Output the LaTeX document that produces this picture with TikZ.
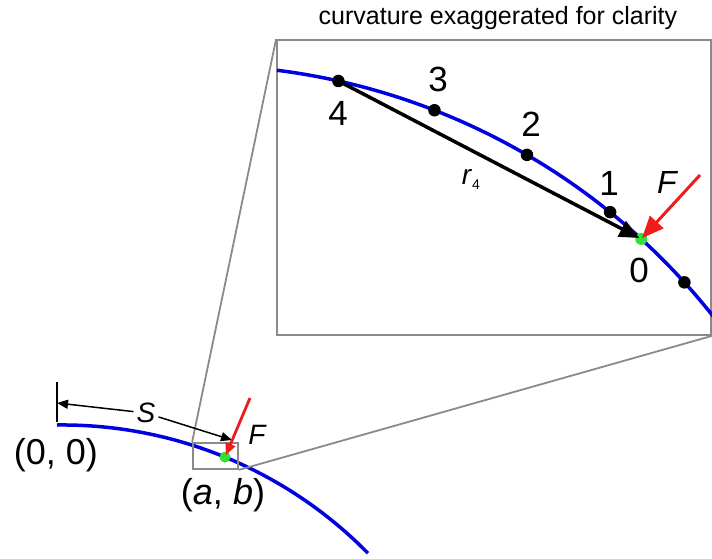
\documentclass[tikz,border=0pt]{standalone}
\usepackage{fontspec}
\setmainfont{Liberation Sans}
\usetikzlibrary{arrows.meta}
\definecolor{curveBlue}{HTML}{0000E0}
\definecolor{forceRed}{HTML}{EE1C1C}
\definecolor{hitGreen}{HTML}{33E033}
\definecolor{frameGray}{HTML}{8A8A8A}
\tikzset{
  curve/.style={line width=3.5pt, curveBlue},
  frame/.style={draw=frameGray, line width=1.8pt},
  bead/.style={circle, fill=black, inner sep=0pt, minimum size=12.5pt},
  hit/.style={circle, fill=hitGreen, inner sep=0pt, minimum size=12pt},
  force/.style={-{Triangle[length=22pt,width=18pt]}, line width=3pt, forceRed},
  smforce/.style={-{Triangle[length=12pt,width=10pt]}, line width=2.8pt, forceRed},
  chord/.style={-{Triangle[length=20pt,width=17pt]}, line width=3.5pt, black},
  sarr/.style={-{Triangle[length=11pt,width=9pt]}, line width=1.5pt, black},
  lbl/.style={inner sep=0pt, font=\fontsize{35}{40}\selectfont},
  sm/.style={inner sep=3pt, font=\fontsize{28}{32}\selectfont\itshape},
  crd/.style={inner sep=0pt, font=\fontsize{36}{40}\selectfont},
  ttl/.style={inner sep=0pt, font=\fontsize{25}{30}\selectfont},
}
\begin{document}
\begin{tikzpicture}[x=1pt, y=-1pt]
  \useasboundingbox (0,0) rectangle (712,559);
  % whole curve
  \coordinate (orig) at (57,425);
  \coordinate (ctrA) at (62.4,853.6);
  \draw[curve] (orig) arc[start angle=-90.7, end angle=-44.5, radius=428.6];
  \node[frame, minimum width=45pt, minimum height=26pt] (win) at (215.5,456) {};
  \node[hit, minimum size=11pt] (ab) at ([shift={(-67.7:428.6)}]ctrA) {};
  % inset
  \node[frame, minimum width=434pt, minimum height=295pt] (inset) at (494,187.5) {};
  \draw[frame] (win.north west) -- (inset.north west);
  \draw[frame] (win.south east) -- (inset.south east);
  \node[ttl] (title) at (498,18) {curvature exaggerated for clarity};
  \coordinate (ctrB) at (194,727);
  \draw[curve] ([shift={(-82.8:662)}]ctrB) arc[start angle=-82.8, end angle=-38.3, radius=662];
  \foreach \ang/\nm in {-77.4/4, -68.7/3, -59.8/2, -51.05/1, -42.2/next}
    \node[bead] (p\nm) at ([shift={(\ang:662)}]ctrB) {};
  \node[hit] (p0) at ([shift={(-47.5:662)}]ctrB) {};
  \draw[chord, shorten >=2pt] (p4.center) -- (p0.center);
  \coordinate (fInset) at (700,175);
  \draw[force, shorten >=1pt] (fInset) -- (p0.center);
  % labels inset
  \node[lbl] (n4) at (338,113) {4};
  \node[lbl] (n3) at (438,79) {3};
  \node[lbl] (n2) at (531,124) {2};
  \node[lbl] (n1) at (609,183) {1};
  \node[lbl] (n0) at (639,270) {0};
  \node[lbl, font=\fontsize{32}{36}\selectfont\itshape] (fI) at (667,182) {F};
  \node[inner sep=0pt, font=\fontsize{28}{32}\selectfont] (r4) at (471,179) {\textit{r}\raisebox{-5pt}{\fontsize{14}{16}\selectfont 4}};
  % arc length and force below
  \coordinate (tickTop) at (57,382);
  \coordinate (tickBot) at (57,422);
  \coordinate (tickMid) at (57,403);
  \coordinate (sEnd) at (232,440);
  \draw[line width=2pt] (tickTop) -- (tickBot);
  \node[sm] (S) at (146,413) {S};
  \draw[sarr] (S) -- (tickMid);
  \draw[sarr] (S) -- (sEnd);
  \coordinate (fLow) at (250,398);
  \draw[smforce, shorten >=2pt] (fLow) -- (ab.center);
  \node[sm] (fL) at (257,435) {F};
  \node[crd] (o) at (56,455) {(0, 0)};
  \node[crd] (abl) at (223,495) {(\textit{a}, \textit{b})};
\end{tikzpicture}
\end{document}
